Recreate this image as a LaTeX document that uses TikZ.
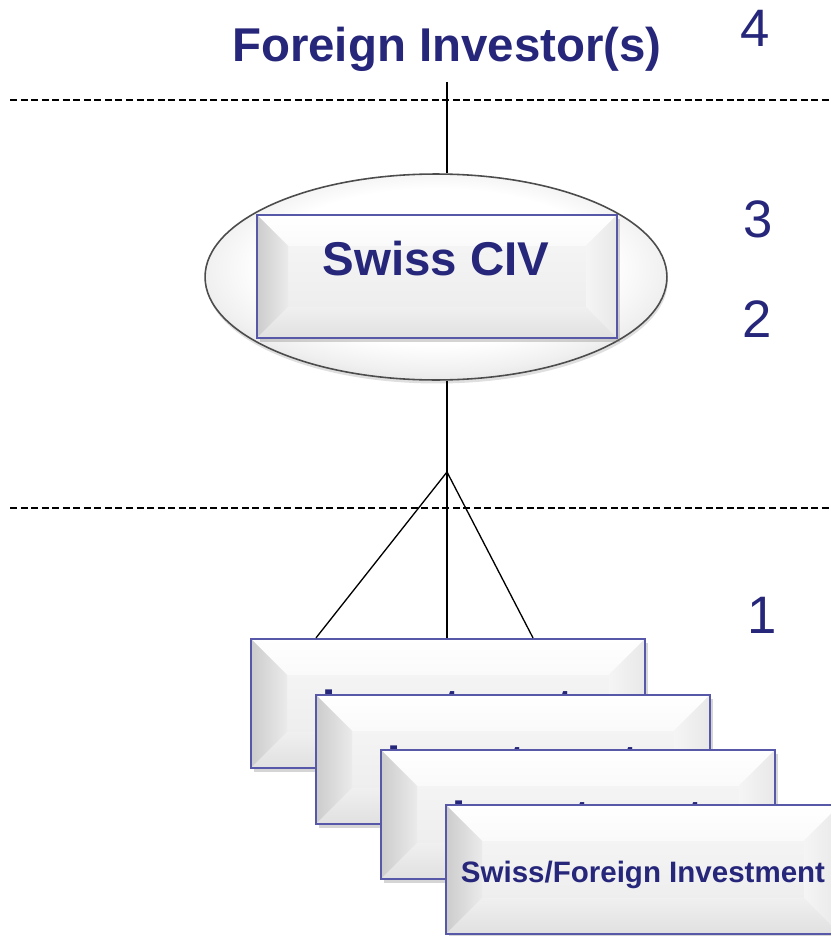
\documentclass[tikz,border=0pt]{standalone}
\usepackage{fontspec}
\setmainfont{Liberation Sans}
\usetikzlibrary{shapes.geometric,shadows}

\definecolor{navy}{RGB}{38,38,122}
\definecolor{boxline}{RGB}{88,88,168}
\definecolor{face}{RGB}{237,237,237}

% soft rim shading for the ring round the CIV
\pgfdeclareradialshading{ringshade}{\pgfpoint{0bp}{4bp}}{%
  color(0bp)=(white); color(19bp)=(white); color(25bp)=(white!94!black);
  color(30bp)=(white!86!black); color(34bp)=(white!77!black); color(50bp)=(white!72!black)}

\tikzset{
  bevel depth/.store in=\bevdepth,
  bevel depth=0.7cm,
  bevelled/.style={
    draw=boxline, line width=1.3pt, fill=face, inner sep=0pt,
    drop shadow={shadow xshift=1.5pt, shadow yshift=-2.5pt, opacity=.3, fill=black!55},
    path picture={
      \coordinate (pSW) at (path picture bounding box.south west);
      \coordinate (pNE) at (path picture bounding box.north east);
      \coordinate (pNW) at (path picture bounding box.north west);
      \coordinate (pSE) at (path picture bounding box.south east);
      % face
      \shade[top color=white!97!black, bottom color=white!92!black] (pSW) rectangle (pNE);
      % top bevel
      \shade[top color=white, bottom color=white!98!black]
        (pNW) -- (pNE) -- ([shift={(-\bevdepth,-\bevdepth)}]pNE)
        -- ([shift={(\bevdepth,-\bevdepth)}]pNW) -- cycle;
      % left bevel
      \shade[left color=white!80!black, right color=white!92!black]
        (pNW) -- ([shift={(\bevdepth,-\bevdepth)}]pNW)
        -- ([shift={(\bevdepth,\bevdepth)}]pSW) -- (pSW) -- cycle;
      % right bevel
      \shade[left color=white!96!black, right color=white!91!black]
        (pNE) -- (pSE) -- ([shift={(-\bevdepth,\bevdepth)}]pSE)
        -- ([shift={(-\bevdepth,-\bevdepth)}]pNE) -- cycle;
      % bottom bevel
      \shade[top color=white!94!black, bottom color=white!88!black]
        (pSW) -- ([shift={(\bevdepth,\bevdepth)}]pSW)
        -- ([shift={(-\bevdepth,\bevdepth)}]pSE) -- (pSE) -- cycle;
    }},
  invbox/.style={bevelled, bevel depth=0.72cm, minimum width=7.88cm, minimum height=2.58cm},
  civbox/.style={bevelled, bevel depth=0.62cm, minimum width=7.2cm, minimum height=2.46cm},
  ring/.style={ellipse, draw=black!70, line width=0.9pt,
    shading=ringshade,
    minimum width=9.24cm, minimum height=4.12cm,
    drop shadow={shadow xshift=0.5pt, shadow yshift=-2pt, opacity=.25, fill=black!50}},
  bigtext/.style={font=\fontsize{27}{30}\selectfont\bfseries, text=navy, inner sep=0pt, anchor=base},
  smalltext/.style={font=\fontsize{16.8}{19}\selectfont\bfseries, text=navy, inner sep=0pt, anchor=base},
  levelnum/.style={font=\fontsize{30}{33}\selectfont, text=navy, inner sep=0pt, anchor=base},
  conn/.style={draw=black, line width=0.75pt},
  divider/.style={draw=black, line width=0.6pt, dash pattern=on 4pt off 2pt},
}

\begin{document}
\begin{tikzpicture}[x=0.02cm, y=-0.02cm]
  \useasboundingbox (0,0) rectangle (831,936);
  \clip (0,0) rectangle (831,936);

  % title and level numbers
  \node[bigtext] (investor) at (447,62) {Foreign Investor(s)};
  \node[levelnum] (lvl4) at (755,47) {4};
  \node[levelnum] (lvl3) at (758,237) {3};
  \node[levelnum] (lvl2) at (757,337) {2};
  \node[levelnum] (lvl1) at (762,633) {1};

  % level dividers
  \coordinate (div1l) at (10,100);
  \coordinate (div1r) at (831,100);
  \coordinate (div2l) at (10,508);
  \coordinate (div2r) at (831,508);
  \draw[divider] (div1l) -- (div1r);
  \draw[divider] (div2l) -- (div2r);

  % Swiss CIV inside its ring
  \node[ring, shade] (ring) at (436,277) {};
  \node[civbox] (civ) at (437,276.5) {};
  \node[bigtext] (civlabel) at (436,275) {Swiss CIV};

  % connectors
  \coordinate (stem) at (447,82);
  \coordinate (fork) at (447,472);
  \draw[conn] (stem) -- (stem |- ring.north);
  \draw[conn] (stem |- ring.south) -- (fork);

  % stacked investments
  \node[invbox] (inv1) at (448,703.5) {};
  \node[bigtext] (inv1text) at ([yshift=-1.69cm]inv1.north) {Investment};
  \draw[conn] (fork) -- (316,0 |- inv1.north);
  \draw[conn] (fork) -- (inv1.north -| fork);
  \draw[conn] (fork) -- (533,0 |- inv1.north);

  \node[invbox] (inv2) at (513,759.5) {};
  \node[bigtext] (inv2text) at ([yshift=-1.69cm]inv2.north) {Investment};

  \node[invbox] (inv3) at (578,814.5) {};
  \node[bigtext] (inv3text) at ([yshift=-1.69cm]inv3.north) {Investment};

  \node[invbox] (inv4) at (643,869.5) {};
  \node[smalltext] (inv4text) at (643,882) {Swiss/Foreign Investment};
\end{tikzpicture}
\end{document}
